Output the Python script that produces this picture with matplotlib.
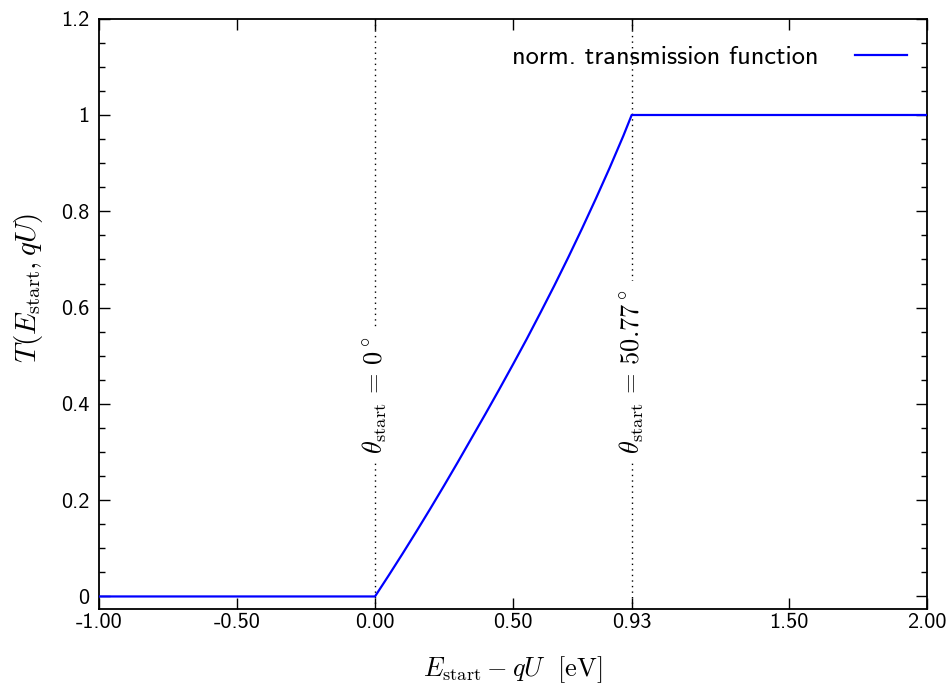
import matplotlib
matplotlib.use("Agg")
import matplotlib.pyplot as plt
from matplotlib.ticker import MultipleLocator

plt.rcParams['mathtext.fontset'] = 'cm'
plt.rcParams['axes.unicode_minus'] = False

# values
energy = [-1.0, 0.0, 0.05, 0.1, 0.15, 0.2, 0.25, 0.3, 0.35, 0.4, 0.45, 0.5,
          0.55, 0.6, 0.65, 0.7, 0.75, 0.8, 0.85, 0.9, 0.93, 2.0]
transmission = [0.0, 0.0, 0.044, 0.089, 0.135, 0.182, 0.230, 0.279, 0.329, 0.379, 0.430, 0.482,
                0.535, 0.590, 0.646, 0.704, 0.764, 0.826, 0.890, 0.957, 1.0, 1.0]

x_ticks = [-1.0, -0.5, 0.0, 0.5, 0.93, 1.5, 2.0]
x_ticklabels = ["-1.00", "-0.50", "0.00", "0.50", "0.93", "1.50", "2.00"]
y_ticks = [0, 0.2, 0.4, 0.6, 0.8, 1.0, 1.2]
y_ticklabels = ["0", "0.2", "0.4", "0.6", "0.8", "1", "1.2"]

marker_energy = [0.0, 0.93]
marker_labels = [r"$\theta_{\rm start}\,=\,0^\circ$", r"$\theta_{\rm start}\,=\,50.77^\circ$"]

sans = "cmss10"
fs_tick = 16
fs_math = 19

fig = plt.figure(figsize=(9.46, 6.89), dpi=100)
ax = fig.add_axes([99/946, 1 - 608.5/689, (927 - 99)/946, (608.5 - 18.7)/689])

for xe in marker_energy:
    ax.axvline(xe, color="black", lw=1.0, linestyle=(0, (1, 3)), zorder=1)

ax.plot(energy, transmission, color="#0000ff", lw=1.6, zorder=3,
        label="norm. transmission function")

for xe, lab in zip(marker_energy, marker_labels):
    ax.text(xe, 0.296, lab, rotation=90, rotation_mode="anchor",
            ha="left", va="center", fontsize=fs_math, zorder=2,
            bbox=dict(facecolor="white", edgecolor="none", pad=6))

ax.set_xlim(-1, 2)
ax.set_ylim(-0.025, 1.2)
ax.set_xticks(x_ticks)
ax.set_xticklabels(x_ticklabels, fontfamily=sans, fontsize=fs_tick)
ax.set_yticks(y_ticks)
ax.set_yticklabels(y_ticklabels, fontfamily=sans, fontsize=fs_tick)
ax.yaxis.set_minor_locator(MultipleLocator(0.05))

ax.tick_params(which="both", direction="in", top=True, right=True)
ax.tick_params(which="major", length=8, width=1.0)
ax.tick_params(axis="x", which="major", pad=3.5)
ax.tick_params(axis="y", which="major", pad=7)
ax.tick_params(which="minor", length=4, width=1.0)
ax.tick_params(axis="x", which="minor", top=False, bottom=False)
for s in ax.spines.values():
    s.set_linewidth(1.3)

ax.set_xlabel(r"$E_{\rm start} - qU\ \ [\rm eV]$", fontsize=fs_math, va="center")
ax.xaxis.set_label_coords(0.5, -0.104)
ax.set_ylabel(r"$T(E_{\rm start}, qU)$", fontsize=21, va="center")
ax.yaxis.set_label_coords(-0.0857, 0.543)

leg = ax.legend(loc="upper right", bbox_to_anchor=(1.0, 0.988), frameon=False,
                markerfirst=False, prop={"family": sans, "size": 19},
                handlelength=1.97, handletextpad=1.4, borderaxespad=0.36)

fig.savefig("out.png", dpi=100)
